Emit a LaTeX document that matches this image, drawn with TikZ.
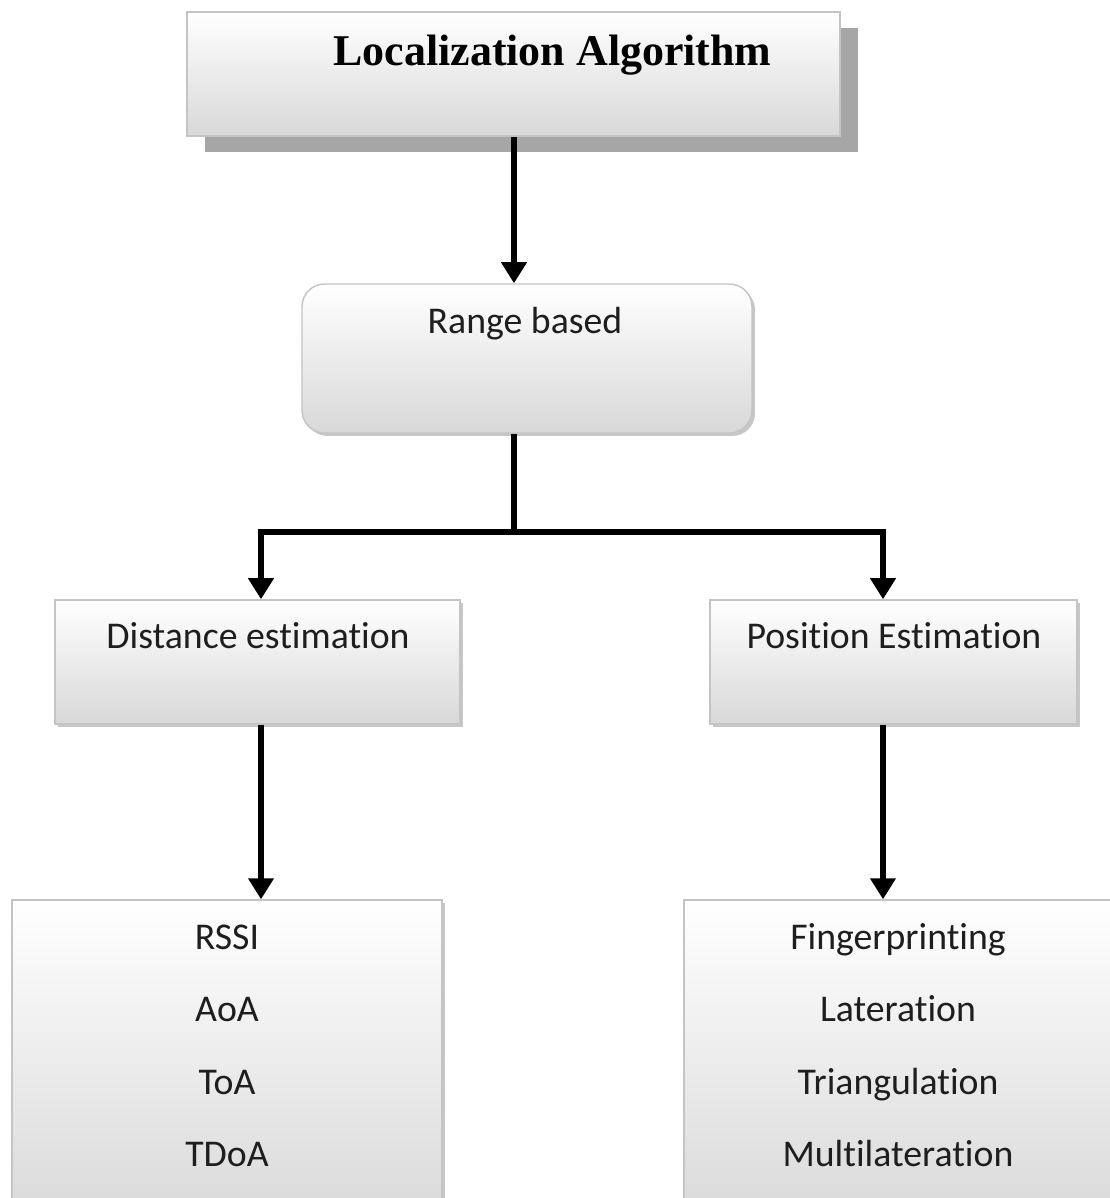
\documentclass[tikz,border=0pt]{standalone}
\usepackage{fontspec}
\setmainfont[Ligatures=NoCommon,RawFeature={-liga,-clig,-calt,-dlig}]{Carlito}
\newfontfamily\titlefont{Liberation Serif}
\usetikzlibrary{arrows.meta,shadows}
\definecolor{boxgray}{HTML}{D8D8D8}
\definecolor{edgegray}{HTML}{C4C4C4}
\definecolor{shadowgray}{HTML}{A6A6A6}
\definecolor{inkgray}{HTML}{1E1E1E}
\begin{document}
\begin{tikzpicture}[x=0.02cm,y=-0.02cm,
  box/.style={draw=edgegray,line width=0.8pt,top color=white,bottom color=boxgray,
    inner sep=0pt,minimum width=#1},
  box/.default=8cm,
  softshadow/.style={drop shadow={shadow xshift=0.06cm,shadow yshift=-0.06cm,
    fill=black,opacity=.22}},
  txt/.style={anchor=base,inner sep=0pt,text=inkgray,
    font=\fontsize{21.5}{26}\selectfont},
  arr/.style={line width=3.5pt,-{Triangle[width=14pt,length=12pt]}},
  lin/.style={line width=3.5pt}]
\useasboundingbox (0,0) rectangle (1110,1198);
\clip (0,0) rectangle (1110,1198);
% boxes
\node[box=13.06cm,minimum height=2.48cm,
  drop shadow={shadow xshift=0.36cm,shadow yshift=-0.32cm,fill=shadowgray,opacity=1}]
  (algo) at (513.5,74) {};
\node[box=9cm,minimum height=2.98cm,rounded corners=0.45cm,softshadow]
  (range) at (527,358.5) {};
\node[box=8.1cm,minimum height=2.48cm,softshadow] (dist) at (257.5,662) {};
\node[box=7.34cm,minimum height=2.48cm,softshadow] (pos) at (893.5,662) {};
\node[box=8.6cm,minimum height=6.6cm,softshadow] (distlist) at (227,1065) {};
\node[box=8.56cm,minimum height=6.6cm,softshadow] (poslist) at (898,1065) {};
% texts
\node[txt,font=\titlefont\bfseries\fontsize{25}{30}\selectfont,text=black]
  (algotxt) at (552.5,65) {Localization Algorithm};
\node[txt] (rangetxt) at (525,333) {Range based};
\node[txt] (disttxt) at (258,648) {Distance estimation};
\node[txt] (postxt) at (894,648) {Position Estimation};
\foreach \t [count=\i] in {RSSI,AoA,ToA,TDoA}
  \node[txt] (dl\i) at (227,949+72.6*\i-72.6) {\t};
\foreach \t [count=\i] in {Fingerprinting,Lateration,Triangulation,Multilateration}
  \node[txt] (pl\i) at (898,949+72.6*\i-72.6) {\t};
% connectors
\coordinate (mid) at (514,0);
\coordinate (left) at (261,0);
\coordinate (right) at (883,0);
\coordinate (split) at (514,532);
\draw[arr] (algo.south -| mid) -- (range.north -| mid);
\draw[lin] (range.south -| mid) -- (split);
\draw[arr] (split) -| (dist.north -| left);
\draw[arr] (split) -| (pos.north -| right);
\draw[arr] (dist.south -| left) -- (distlist.north -| left);
\draw[arr] (pos.south -| right) -- (poslist.north -| right);
\end{tikzpicture}
\end{document}
